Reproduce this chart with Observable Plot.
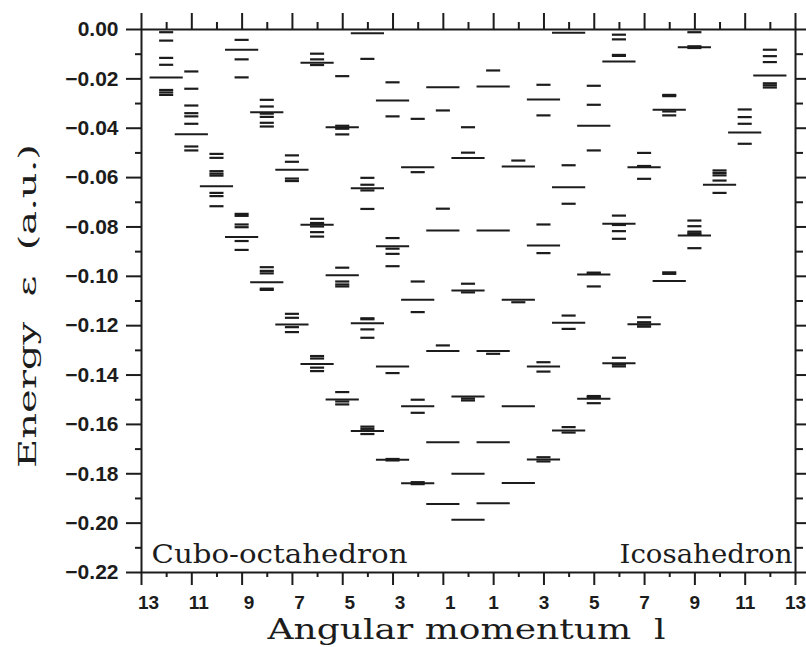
<!DOCTYPE html>
<html>
<head>
<meta charset="utf-8">
<script src="https://cdn.jsdelivr.net/npm/d3@7"></script>
<script src="https://cdn.jsdelivr.net/npm/@observablehq/plot@0.6"></script>
<style>
  html, body { margin: 0; padding: 0; background: #fff; }
  svg text { white-space: pre; }
</style>
</head>
<body>
<div id="chart"></div>
<script>
// ---- Data: [angular momentum l, energy (a.u.)] ----
// Spherical (unsplit) reference levels, drawn as long bars
const cuboLong = [
  [12, -0.0194],
  [11, -0.0424],
  [10, -0.0635],
  [9, -0.0082], [9, -0.0841],
  [8, -0.0335], [8, -0.1024],
  [7, -0.0568], [7, -0.1195],
  [6, -0.0135], [6, -0.0791], [6, -0.1355],
  [5, -0.0396], [5, -0.0996], [5, -0.1499],
  [4, -0.0015], [4, -0.0643], [4, -0.1190], [4, -0.1627],
  [3, -0.0288], [3, -0.0878], [3, -0.1365], [3, -0.1743],
  [2, -0.0558], [2, -0.1095], [2, -0.1526], [2, -0.1838],
  [1, -0.0234], [1, -0.0814], [1, -0.1303], [1, -0.1672], [1, -0.1922],
  [0, -0.0521], [0, -0.1057], [0, -0.1487], [0, -0.1800], [0, -0.1986]
];
// Split sublevels of the cubo-octahedron, drawn as short bars
const cuboSplit = [
  [12, -0.0011], [12, -0.0045], [12, -0.0115], [12, -0.0143], [12, -0.0245], [12, -0.0255], [12, -0.0265],
  [11, -0.0170], [11, -0.0240], [11, -0.0308], [11, -0.0339], [11, -0.0352], [11, -0.0382], [11, -0.0474], [11, -0.0490],
  [10, -0.0504], [10, -0.0520], [10, -0.0574], [10, -0.0584], [10, -0.0592], [10, -0.0662], [10, -0.0675], [10, -0.0716],
  [9, -0.0042], [9, -0.0121], [9, -0.0194], [9, -0.0747], [9, -0.0755], [9, -0.0790], [9, -0.0801], [9, -0.0857], [9, -0.0893],
  [8, -0.0285], [8, -0.0312], [8, -0.0341], [8, -0.0354], [8, -0.0378], [8, -0.0393], [8, -0.0963], [8, -0.0978], [8, -0.0988], [8, -0.1050], [8, -0.1055],
  [7, -0.0510], [7, -0.0536], [7, -0.0604], [7, -0.0614], [7, -0.1152], [7, -0.1168], [7, -0.1206], [7, -0.1226],
  [6, -0.0098], [6, -0.0121], [6, -0.0144], [6, -0.0767], [6, -0.0784], [6, -0.0798], [6, -0.0821], [6, -0.0839], [6, -0.1323], [6, -0.1333], [6, -0.1370], [6, -0.1384],
  [5, -0.0189], [5, -0.0390], [5, -0.0402], [5, -0.0425], [5, -0.0965], [5, -0.1021], [5, -0.1033], [5, -0.1041], [5, -0.1469], [5, -0.1507], [5, -0.1519],
  [4, -0.0119], [4, -0.0601], [4, -0.0629], [4, -0.0652], [4, -0.0727], [4, -0.1170], [4, -0.1174], [4, -0.1215], [4, -0.1249], [4, -0.1609], [4, -0.1618], [4, -0.1639],
  [3, -0.0214], [3, -0.0352], [3, -0.0845], [3, -0.0888], [3, -0.0909], [3, -0.0959], [3, -0.1392], [3, -0.1740], [3, -0.1746],
  [2, -0.0362], [2, -0.0578], [2, -0.1021], [2, -0.1145], [2, -0.1500], [2, -0.1553], [2, -0.1834], [2, -0.1842],
  [1, -0.0328], [1, -0.0726], [1, -0.1280],
  [0, -0.0396], [0, -0.0499], [0, -0.1030], [0, -0.1065], [0, -0.1495], [0, -0.1503]
];
const icosaLong = [
  [1, -0.0231], [1, -0.0814], [1, -0.1303], [1, -0.1672], [1, -0.1919],
  [2, -0.0555], [2, -0.1095], [2, -0.1526], [2, -0.1837],
  [3, -0.0284], [3, -0.0875], [3, -0.1365], [3, -0.1742],
  [4, -0.0013], [4, -0.0639], [4, -0.1188], [4, -0.1625],
  [5, -0.0390], [5, -0.0993], [5, -0.1496],
  [6, -0.0130], [6, -0.0787], [6, -0.1352],
  [7, -0.0558], [7, -0.1194],
  [8, -0.0325], [8, -0.1019],
  [9, -0.0072], [9, -0.0835],
  [10, -0.0629],
  [11, -0.0417],
  [12, -0.0186]
];
const icosaSplit = [
  [1, -0.0166], [1, -0.1314],
  [2, -0.0531], [2, -0.1105],
  [3, -0.0224], [3, -0.0348], [3, -0.0790], [3, -0.0906], [3, -0.1348], [3, -0.1386], [3, -0.1733], [3, -0.1750],
  [4, -0.0550], [4, -0.0706], [4, -0.1159], [4, -0.1213], [4, -0.1611], [4, -0.1633],
  [5, -0.0228], [5, -0.0305], [5, -0.0490], [5, -0.0985], [5, -0.0989], [5, -0.1041], [5, -0.1485], [5, -0.1489], [5, -0.1514],
  [6, -0.0021], [6, -0.0040], [6, -0.0103], [6, -0.0107], [6, -0.0754], [6, -0.0792], [6, -0.0817], [6, -0.0848], [6, -0.1330], [6, -0.1357], [6, -0.1365],
  [7, -0.0500], [7, -0.0553], [7, -0.0605], [7, -0.1166], [7, -0.1186], [7, -0.1196], [7, -0.1204],
  [8, -0.0265], [8, -0.0270], [8, -0.0332], [8, -0.0348], [8, -0.0984], [8, -0.0990],
  [9, -0.0011], [9, -0.0068], [9, -0.0075], [9, -0.0774], [9, -0.0797], [9, -0.0819], [9, -0.0826], [9, -0.0831], [9, -0.0886],
  [10, -0.0571], [10, -0.0581], [10, -0.0591], [10, -0.0612], [10, -0.0662],
  [11, -0.0324], [11, -0.0355], [11, -0.0382], [11, -0.0463],
  [12, -0.0082], [12, -0.0108], [12, -0.0132], [12, -0.0218], [12, -0.0226], [12, -0.0235]
];

// ---- Ticks and labels ----
const xOddTicks = [-13, -11, -9, -7, -5, -3, -1, 1, 3, 5, 7, 9, 11, 13];
const xEvenTicks = [-12, -10, -8, -6, -4, -2, 0, 2, 4, 6, 8, 10, 12];
const xLeftLabels = [-13, -11, -9, -7, -5, -3, -1];
const xRightLabels = [1, 3, 5, 7, 9, 11, 13];
const yMajorTicks = [0, -0.02, -0.04, -0.06, -0.08, -0.10, -0.12, -0.14, -0.16, -0.18, -0.20, -0.22];
const yMinorTicks = [-0.01, -0.03, -0.05, -0.07, -0.09, -0.11, -0.13, -0.15, -0.17, -0.19, -0.21];
const leftTitle = "Cubo-octahedron";
const rightTitle = "Icosahedron";
const xTitle = "Angular momentum  l";
const yTitle = "Energy  \u03b5  (a.u.)";

// ---- Styles ----
const INK = "#1c1c1c";
const HALF_LONG = 0.66;
const HALF_SHORT = 0.28;
const SERIF = "DejaVu Serif";
const SANS = "Liberation Sans";

const yFmt = d => Math.abs(d) < 1e-9 ? "0.00" : d3.format(".2f")(d);

const chart = Plot.plot({
  width: 806,
  height: 647,
  marginLeft: 141,
  marginRight: 11,
  marginTop: 29,
  marginBottom: 75,
  style: {background: "#fff", color: INK, fontFamily: SANS},
  x: {domain: [-13, 13]},
  y: {domain: [-0.22, 0]},
  marks: [
    // level bars
    Plot.ruleY(cuboLong, {y: d => d[1], x1: d => -d[0] - HALF_LONG, x2: d => -d[0] + HALF_LONG, stroke: INK, strokeWidth: 2}),
    Plot.ruleY(cuboSplit, {y: d => d[1], x1: d => -d[0] - HALF_SHORT, x2: d => -d[0] + HALF_SHORT, stroke: INK, strokeWidth: 2.2}),
    Plot.ruleY(icosaLong, {y: d => d[1], x1: d => d[0] - HALF_LONG, x2: d => d[0] + HALF_LONG, stroke: INK, strokeWidth: 2}),
    Plot.ruleY(icosaSplit, {y: d => d[1], x1: d => d[0] - HALF_SHORT, x2: d => d[0] + HALF_SHORT, stroke: INK, strokeWidth: 2.2}),
    // frame
    Plot.frame({stroke: INK, strokeWidth: 2}),
    // bottom ticks
    Plot.axisX({anchor: "bottom", ticks: xOddTicks, tickSize: 13, fill: "none", stroke: INK, strokeWidth: 2, label: null}),
    Plot.axisX({anchor: "bottom", ticks: xEvenTicks, tickSize: 5, fill: "none", stroke: INK, strokeWidth: 2, label: null}),
    Plot.axisX({anchor: "bottom", ticks: xLeftLabels, tickSize: 13, tickPadding: 10, stroke: "none", dx: 7,
      tickFormat: d => String(Math.abs(d)), fontSize: 19, fontWeight: "bold", fontFamily: SANS, fill: INK, label: null}),
    Plot.axisX({anchor: "bottom", ticks: xRightLabels, tickSize: 13, tickPadding: 10, stroke: "none",
      tickFormat: d => String(Math.abs(d)), fontSize: 19, fontWeight: "bold", fontFamily: SANS, fill: INK, label: null}),
    // top ticks
    Plot.axisX({anchor: "top", ticks: xOddTicks, tickSize: 17, fill: "none", stroke: INK, strokeWidth: 2, label: null}),
    Plot.axisX({anchor: "top", ticks: xEvenTicks, tickSize: 8, fill: "none", stroke: INK, strokeWidth: 2, label: null}),
    // left axis
    Plot.axisY({anchor: "left", ticks: yMajorTicks, tickSize: 15, tickPadding: 8, tickFormat: yFmt,
      stroke: INK, strokeWidth: 2, fill: INK, fontSize: 21, fontWeight: "bold", fontFamily: SANS, label: null}),
    Plot.axisY({anchor: "left", ticks: yMinorTicks, tickSize: 6, fill: "none", stroke: INK, strokeWidth: 2, label: null}),
    // right axis
    Plot.axisY({anchor: "right", ticks: yMajorTicks, tickSize: 11, fill: "none", stroke: INK, strokeWidth: 2, label: null}),
    Plot.axisY({anchor: "right", ticks: yMinorTicks, tickSize: 7, fill: "none", stroke: INK, strokeWidth: 2, label: null}),
    // in-plot titles
    Plot.text([leftTitle], {frameAnchor: "bottom-left", dx: 10, dy: -10, textAnchor: "start", lineAnchor: "bottom",
      fontSize: 26, fontFamily: SERIF, fill: INK}),
    Plot.text([rightTitle], {frameAnchor: "bottom-right", dx: -3, dy: -10, textAnchor: "end", lineAnchor: "bottom",
      fontSize: 26, fontFamily: SERIF, fill: INK}),
    // axis titles
    Plot.text([xTitle], {frameAnchor: "bottom", dx: -2, dy: 66, textAnchor: "middle", lineAnchor: "bottom",
      fontSize: 27, fontFamily: SERIF, fill: INK}),
    Plot.text([yTitle], {frameAnchor: "left", dx: -106, dy: 5, rotate: -90, textAnchor: "middle", lineAnchor: "bottom",
      fontSize: 25, fontFamily: SERIF, fill: INK})
  ]
});

// stretch the typewriter-like titles to the reference widths
const targetLengths = new Map([[leftTitle, 256], [rightTitle, 173], [xTitle, 398], [yTitle, 324]]);
for (const t of chart.querySelectorAll("text")) {
  const len = targetLengths.get(t.textContent);
  if (len) {
    t.setAttribute("textLength", len);
    t.setAttribute("lengthAdjust", "spacingAndGlyphs");
  }
}

document.getElementById("chart").appendChild(chart);
</script>
</body>
</html>
